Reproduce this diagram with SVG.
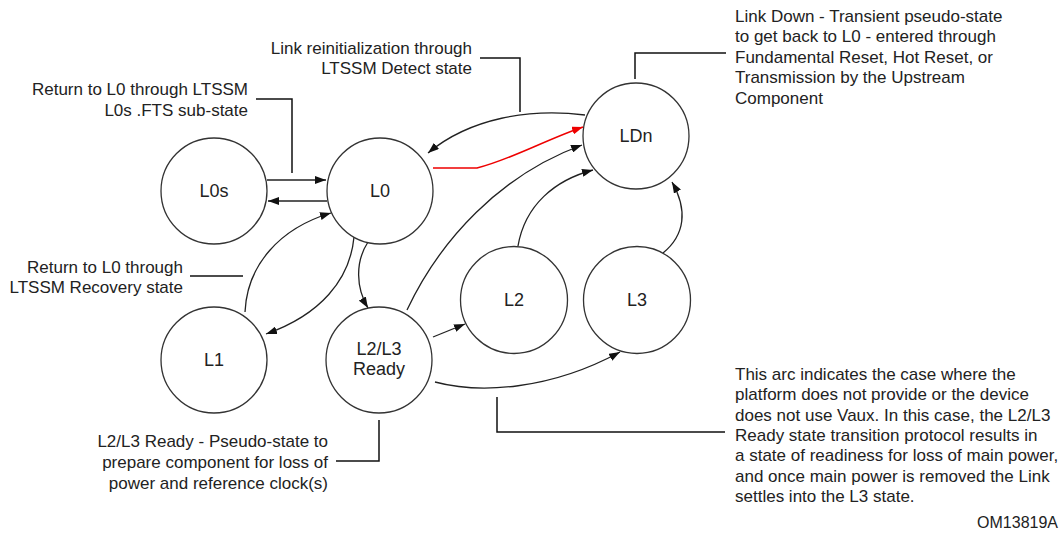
<svg xmlns="http://www.w3.org/2000/svg" width="1060" height="537" viewBox="0 0 1060 537">
<style>
.node{fill:#fff;stroke:#333;stroke-width:1.3}
.lbl{font-family:"Liberation Sans",Arial,sans-serif;font-size:18px;fill:#222;text-anchor:middle}
.note{font-family:"Liberation Sans",Arial,sans-serif;font-size:17px;fill:#222}
.r{text-anchor:end}
.edge{fill:none;stroke:#222;stroke-width:1.3}
.red{fill:none;stroke:#e00;stroke-width:1.5}
.lead{fill:none;stroke:#111;stroke-width:1.5}
</style>
<defs>
<marker id="ah" markerWidth="11" markerHeight="8" refX="11" refY="4" orient="auto" markerUnits="userSpaceOnUse"><path d="M0,0 L11,4 L0,8 z" fill="#111"/></marker>
<marker id="ahr" markerWidth="11" markerHeight="8" refX="11" refY="4" orient="auto" markerUnits="userSpaceOnUse"><path d="M0,0 L11,4 L0,8 z" fill="#e00"/></marker>
</defs>
<rect width="1060" height="537" fill="#fff"/>
<g id="connectors">
<path class="edge" d="M267,180 L326,180" marker-end="url(#ah)"/>
<path class="edge" d="M327,201 L268,201" marker-end="url(#ah)"/>
<path class="edge" d="M245,312 C247,265 280,228 331,213" marker-end="url(#ah)"/>
<path class="edge" d="M354,237 C350,280 320,315 266,334" marker-end="url(#ah)"/>
<path class="edge" d="M368,242 C355,262 356,288 368,308" marker-end="url(#ah)"/>
<path class="edge" d="M407,310 C440,240 500,175 582,145" marker-end="url(#ah)"/>
<path class="red" d="M433,168 L477,168 C510,160 545,140 583,127" marker-end="url(#ahr)"/>
<path class="edge" d="M585,115 C530,108 470,118 428,153" marker-end="url(#ah)"/>
<path class="edge" d="M518,246 C525,205 555,180 593,170" marker-end="url(#ah)"/>
<path class="edge" d="M663,253 C685,235 688,210 672,182" marker-end="url(#ah)"/>
<path class="edge" d="M433,337 L465,324" marker-end="url(#ah)"/>
<path class="edge" d="M435,382 C480,394 550,390 620,352" marker-end="url(#ah)"/>
</g>
<g id="leaders">
<path class="lead" d="M480,58 L520,58 L520,112"/>
<path class="lead" d="M256,99 L292,99 L292,173"/>
<path class="lead" d="M190,276 L243,276"/>
<path class="lead" d="M336,461 L379,461 L379,420"/>
<path class="lead" d="M725,432 L497,432 L497,397"/>
<path class="lead" d="M726,53 L635,53 L635,79"/>
</g>
<g id="L0s"><circle class="node" cx="214" cy="191" r="53"/><text class="lbl" x="214" y="197">L0s</text></g>
<g id="L0"><circle class="node" cx="380" cy="191" r="53"/><text class="lbl" x="380" y="197">L0</text></g>
<g id="LDn"><circle class="node" cx="636" cy="136" r="53"/><text class="lbl" x="636" y="142">LDn</text></g>
<g id="L1"><circle class="node" cx="214" cy="360" r="53"/><text class="lbl" x="214" y="366">L1</text></g>
<g id="L2L3Ready"><circle class="node" cx="379" cy="360" r="53"/><text class="lbl" x="379" y="355">L2/L3</text><text class="lbl" x="379" y="375">Ready</text></g>
<g id="L2"><circle class="node" cx="514" cy="300" r="53.5"/><text class="lbl" x="514" y="306">L2</text></g>
<g id="L3"><circle class="node" cx="637" cy="300" r="53.5"/><text class="lbl" x="637" y="306">L3</text></g>
<g id="notes">
<text class="note r" x="472" y="54">Link reinitialization through</text>
<text class="note r" x="472" y="74">LTSSM Detect state</text>
<text class="note r" x="248" y="95">Return to L0 through LTSSM</text>
<text class="note r" x="248" y="116">L0s .FTS sub-state</text>
<text class="note r" x="183" y="273">Return to L0 through</text>
<text class="note r" x="183" y="293">LTSSM Recovery state</text>
<text class="note r" x="328" y="447">L2/L3 Ready - Pseudo-state to</text>
<text class="note r" x="328" y="468">prepare component for loss of</text>
<text class="note r" x="328" y="489">power and reference clock(s)</text>
<text class="note" x="735" y="22">Link Down - Transient pseudo-state</text>
<text class="note" x="735" y="42">to get back to L0 - entered through</text>
<text class="note" x="735" y="63">Fundamental Reset, Hot Reset, or</text>
<text class="note" x="735" y="83">Transmission by the Upstream</text>
<text class="note" x="735" y="104">Component</text>
<text class="note" x="735" y="380">This arc indicates the case where the</text>
<text class="note" x="735" y="400">platform does not provide or the device</text>
<text class="note" x="735" y="421">does not use Vaux. In this case, the L2/L3</text>
<text class="note" x="735" y="441">Ready state transition protocol results in</text>
<text class="note" x="735" y="461">a state of readiness for loss of main power,</text>
<text class="note" x="735" y="482">and once main power is removed the Link</text>
<text class="note" x="735" y="502">settles into the L3 state.</text>
<text class="note r" x="1058" y="528" style="font-size:16px">OM13819A</text>
</g>
</svg>
